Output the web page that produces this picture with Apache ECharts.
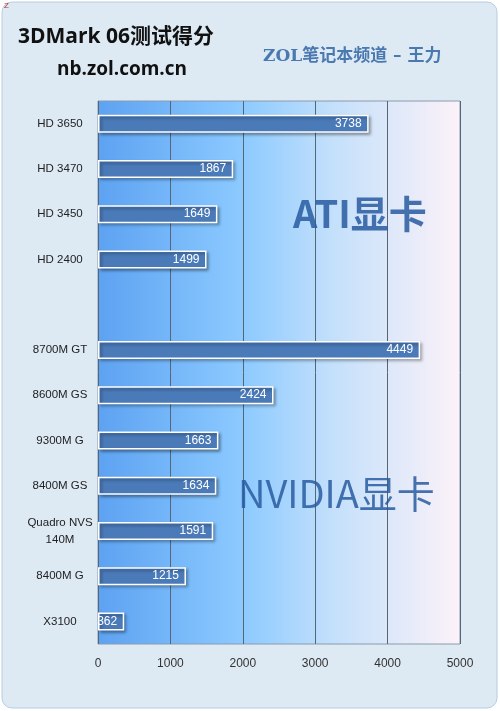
<!DOCTYPE html>
<html><head><meta charset="utf-8">
<script src="https://cdn.jsdelivr.net/npm/echarts@6/dist/echarts.min.js"></script>
<style>html,body{margin:0;padding:0;background:#fff}#c{width:500px;height:711px}</style>
</head><body><div id="c"></div>
<script>
const categories = ['HD 3650','HD 3470','HD 3450','HD 2400','','8700M GT','8600M GS','9300M G','8400M GS','Quadro NVS\n140M','8400M G','X3100'];
const values = [3738,1867,1649,1499,null,4449,2424,1663,1634,1591,1215,362];
const xTicks = [0,1000,2000,3000,4000,5000];

const chart = echarts.init(document.getElementById('c'));
chart.setOption({
  backgroundColor: 'transparent',
  graphic: [
    {type:'rect', shape:{x:2,y:2,width:495,height:706,r:10}, style:{fill:'#dde9f3',stroke:'#b8cbe0',lineWidth:1}, z:-10},
    {type:'text', left:18, top:27, style:{text:'3DMark 06测试得分', font:'bold 21px "Open Sans","Noto Sans CJK SC"', fill:'#111'}},
    {type:'text', left:57, top:60, style:{text:'nb.zol.com.cn', font:'bold 19px "Open Sans"', fill:'#111'}},
    {type:'text', left:263, top:48, style:{text:'ZOL笔记本频道 – 王力', font:'bold 17px "DejaVu Serif","Noto Sans CJK SC"', fill:'#4a78b0'}},
    {type:'text', left:4, top:2, style:{text:'Z', font:'8px sans-serif', fill:'#c03030'}},
    {type:'text', left:293, top:195, z:5, style:{text:'ATI显卡', font:'bold 38px "Noto Sans CJK SC"', fill:'rgba(40,90,160,0.85)'}},
    {type:'text', left:238, top:475, z:5, style:{text:'NVIDIA显卡', font:'38px "Noto Sans CJK SC"', fill:'rgba(40,90,160,0.85)'}}
  ],
  grid: {left:98, right:40, top:101, bottom:67, show:true, borderColor:'#8a9ab0', borderWidth:1,
    backgroundColor: new echarts.graphic.LinearGradient(0,0,1,0,[
      {offset:0,color:'#5da2f2'},{offset:0.4,color:'#8ccaff'},{offset:0.65,color:'#c4e0fb'},{offset:1,color:'#fdf2f8'}])},
  xAxis: {type:'value', min:0, max:5000, interval:1000,
    axisLabel:{color:'#333', fontSize:12, margin:14, formatter:v=>xTicks.includes(v)?String(v):''},
    splitLine:{lineStyle:{color:'#556677',width:1}}, axisLine:{show:false}, axisTick:{show:false}},
  yAxis: {type:'category', data:categories, inverse:true,
    axisLabel:{color:'#222', fontSize:11.5, margin:38, lineHeight:17, align:'center'},
    axisLine:{show:false}, axisTick:{show:false}},
  series: [{type:'bar', data:values, barWidth:18,
    itemStyle:{color:'#4a7ab8', borderColor:'#ffffff', borderWidth:1.5, shadowColor:'rgba(0,0,0,0.35)', shadowBlur:3, shadowOffsetX:2, shadowOffsetY:2},
    label:{show:true, position:'insideRight', color:'#fff', fontSize:12, offset:[-2,0]}}]
});
</script></body></html>
